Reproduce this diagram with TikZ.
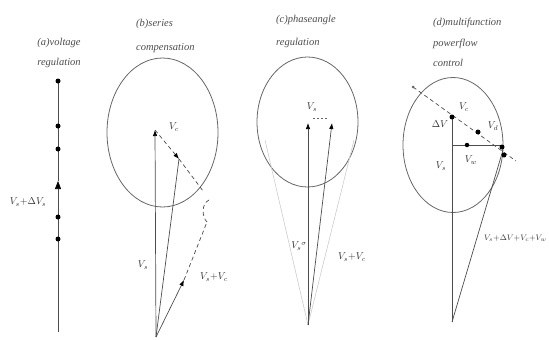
\documentclass[tikz,border=0pt]{standalone}
\usepackage{fontspec}
\setmainfont{Liberation Serif}
\usetikzlibrary{arrows.meta,shapes.geometric}
\tikzset{
  ln/.style={draw=black!70, line width=0.7pt},
  faint/.style={draw=black!20, line width=0.6pt},
  ell/.style={draw=black!60, line width=0.8pt},
  dsh/.style={draw=black!70, line width=0.7pt, dash pattern=on 4pt off 3pt},
  arr/.style={-{Latex[length=6pt,width=4.5pt,black]}},
  dotpt/.style={circle, fill=black, inner sep=0pt, minimum size=5pt},
  lbl/.style={font=\itshape\fontsize{10}{12}\selectfont, text=black!80, inner sep=1pt},
  ttl/.style={font=\itshape\fontsize{10.5}{12}\selectfont, text=black!70, align=left, inner sep=0pt, anchor=base west}
}
\begin{document}
\begin{tikzpicture}[x=1pt,y=-1pt]
\useasboundingbox (0,0) rectangle (549,340);
% ---------- (a)
\node[ttl, align=center, anchor=base] (ta) at (59,65) {(a)voltage\\[8pt]regulation};
\coordinate (aT) at (58,81);
\coordinate (aB) at (58,332);
\coordinate (aM) at (58,181);
\draw[ln] (aM) -- (aT);
\draw[ln, -{Triangle[length=8pt,width=6pt,black]}] (aB) -- (aM);
\foreach \y/\n in {81/1,126/2,149/3,217/4,239/5} \node[dotpt] (ad\n) at (58,\y) {};
\node[lbl] (la) at (28,202) {$V_s{+}\Delta V_s$};
% ---------- (b)
\node[ttl] (tb) at (136,50) {(b)series\\[12pt]compensation};
\node[ell, ellipse, minimum width=111pt, minimum height=149pt, inner sep=0pt] (eb) at (162.5,132.5) {};
\coordinate (bO) at (156,337);
\coordinate (bA) at (155,130);
\coordinate (bP) at (179,159);
\coordinate (bS) at (203,191);
\coordinate (bQ) at (207,222);
\coordinate (bR) at (184,280);
\draw[ln, arr] (bO) -- (bA);
\draw[dsh, arr] (bA) -- (bP);
\draw[dsh] (bP) -- (bS);
\draw[dsh] (209,200) .. controls (201,204) and (202,217) .. (bQ);
\draw[ln] (bO) -- (bP);
\draw[ln, arr] (bO) -- (bR);
\draw[dsh] (bR) -- (bQ);
\node[lbl] (lbc) at (174,127) {$V_c$};
\node[lbl] (lbs) at (143,265) {$V_s$};
\node[lbl] (lbsc) at (214,277) {$V_s{+}V_c$};
% ---------- (c)
\node[ttl] (tc) at (276,45) {(c)phaseangle\\[10pt]regulation};
\node[ell, ellipse, minimum width=101pt, minimum height=130pt, inner sep=0pt] (ec) at (307.5,122) {};
\coordinate (cO) at (308,325);
\coordinate (cL) at (308,123);
\coordinate (cR) at (332,123);
\draw[faint] (cO) -- (265,140);
\draw[faint] (cO) -- (354,140);
\draw[draw=black!40, line width=0.7pt] ([shift={(104.5:203)}]cO) arc[start angle=104.5, end angle=75.7, radius=203];
\draw[ln, arr] (cO) -- (cL);
\draw[ln, arr] (cO) -- (cR);
\draw[draw=black!60, line width=0.6pt, dash pattern=on 2pt off 2pt] (313,118) -- (328,118);
\draw[draw=black!50, line width=0.5pt] ([shift={(83.2:45)}]cO) arc[start angle=83.2, end angle=90, radius=45];
\node[lbl] (lcs) at (312,107) {$V_s$};
\node[lbl] (lcr) at (299,246) {$V_s{}^{\sigma}$};
\node[lbl] (lcsc) at (352,257) {$V_s{+}V_c$};
% ---------- (d)
\node[ttl] (td) at (433,66) {(d)multifunction\\[9pt]powerflow\\[8pt]control};
\node[ell, ellipse, minimum width=100pt, minimum height=135pt, inner sep=0pt] (ed) at (453,145) {};
\coordinate (dO) at (452,322);
\coordinate (dA) at (452,117);
\coordinate (dB) at (452,145);
\coordinate (dC) at (478,132);
\coordinate (dD) at (502,147);
\coordinate (dE) at (504,155);
\coordinate (dH) at (500,145);
\coordinate (dL1) at (413,87);
\coordinate (dL2) at (516,161);
\draw[draw=black!25, line width=0.7pt] ([shift={(111.5:185)}]dO) arc[start angle=111.5, end angle=68, radius=185];
\draw[ln] (dO) -- (dA);
\draw[dsh] (dL1) -- (dL2);
\draw[ln] (dB) -- (dH);
\draw[ln] (dO) -- (503,150);
\node[circle, fill=black!60, inner sep=0pt, minimum size=3pt] (dd0) at (dL1) {};
\foreach \p/\n in {dA/1,dC/2,dD/3,dE/4} \node[dotpt] (dd\n) at (\p) {};
\node[dotpt, minimum size=4.5pt] (dd5) at (467,145) {};
\node[lbl] (ldv) at (440,124) {$\Delta V$};
\node[lbl] (ldc) at (464,107) {$V_c$};
\node[lbl] (ldd) at (493,126) {$V_d$};
\node[lbl] (ldw) at (471,160) {$V_w$};
\node[lbl] (lds) at (441,166) {$V_s$};
\node[lbl, font=\itshape\fontsize{8.5}{10}\selectfont, anchor=west, inner sep=0pt] (ldsum) at (484,238) {$V_s{+}\Delta V{+}V_c{+}V_w$};
\end{tikzpicture}
\end{document}
